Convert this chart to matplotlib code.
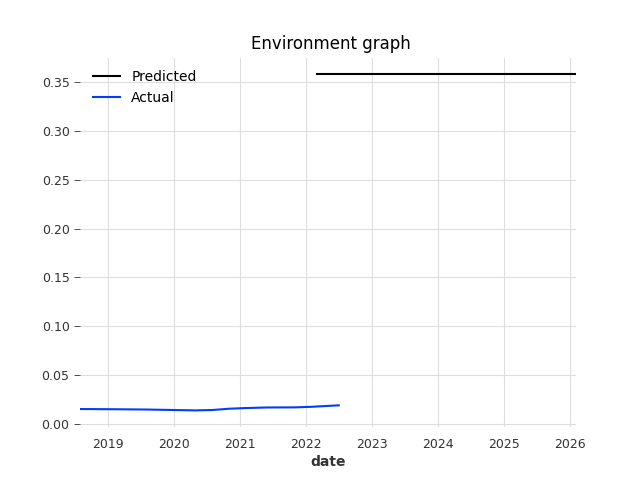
import pandas as pd
import matplotlib.pyplot as plt

# actual series
actualDates = ['2018-08-01', '2019-02-01', '2019-08-01', '2020-02-01', '2020-05-01',
               '2020-08-01', '2020-11-01', '2021-02-01', '2021-06-01', '2021-11-01',
               '2022-02-01', '2022-07-01']
actualValues = [0.0152, 0.0150, 0.0147, 0.0141, 0.0138, 0.0142, 0.0155, 0.0162,
                0.0168, 0.0169, 0.0175, 0.0190]

# predicted series
predDates = ['2022-03-01', '2023-01-01', '2024-01-01', '2025-01-01', '2026-02-01']
predValues = [0.358, 0.358, 0.358, 0.358, 0.358]

actual = pd.Series(actualValues, index=pd.to_datetime(actualDates))
pred = pd.Series(predValues, index=pd.to_datetime(predDates))

plt.rcParams['axes.spines.left'] = False
plt.rcParams['axes.spines.right'] = False
plt.rcParams['axes.spines.top'] = False
plt.rcParams['axes.spines.bottom'] = False

fig, ax = plt.subplots(figsize=(6.4, 4.8), dpi=100)
ax.grid(True, color='#dedede', linewidth=0.8)
ax.set_axisbelow(True)

ax.plot(pred.index, pred.values, color='#000000', linewidth=1.5, label='Predicted')
ax.plot(actual.index, actual.values, color='#003DFD', linewidth=1.5, label='Actual')

# x runs edge to edge, y keeps the default margins
ax.set_xlim(actual.index[0], pred.index[-1])
ax.set_yticks([0.0, 0.05, 0.10, 0.15, 0.20, 0.25, 0.30, 0.35])
ax.tick_params(colors='#333333', labelsize=9, length=4, width=0.6)
ax.tick_params(axis='x', length=0, pad=7.5)

ax.set_title('Environment graph', fontsize=12, x=0.506)
ax.set_xlabel('date', fontsize=10, weight='bold', color='#333333', labelpad=3)
ax.legend(loc='upper left', frameon=False, fontsize=10)

fig.savefig('out.png', dpi=100)
